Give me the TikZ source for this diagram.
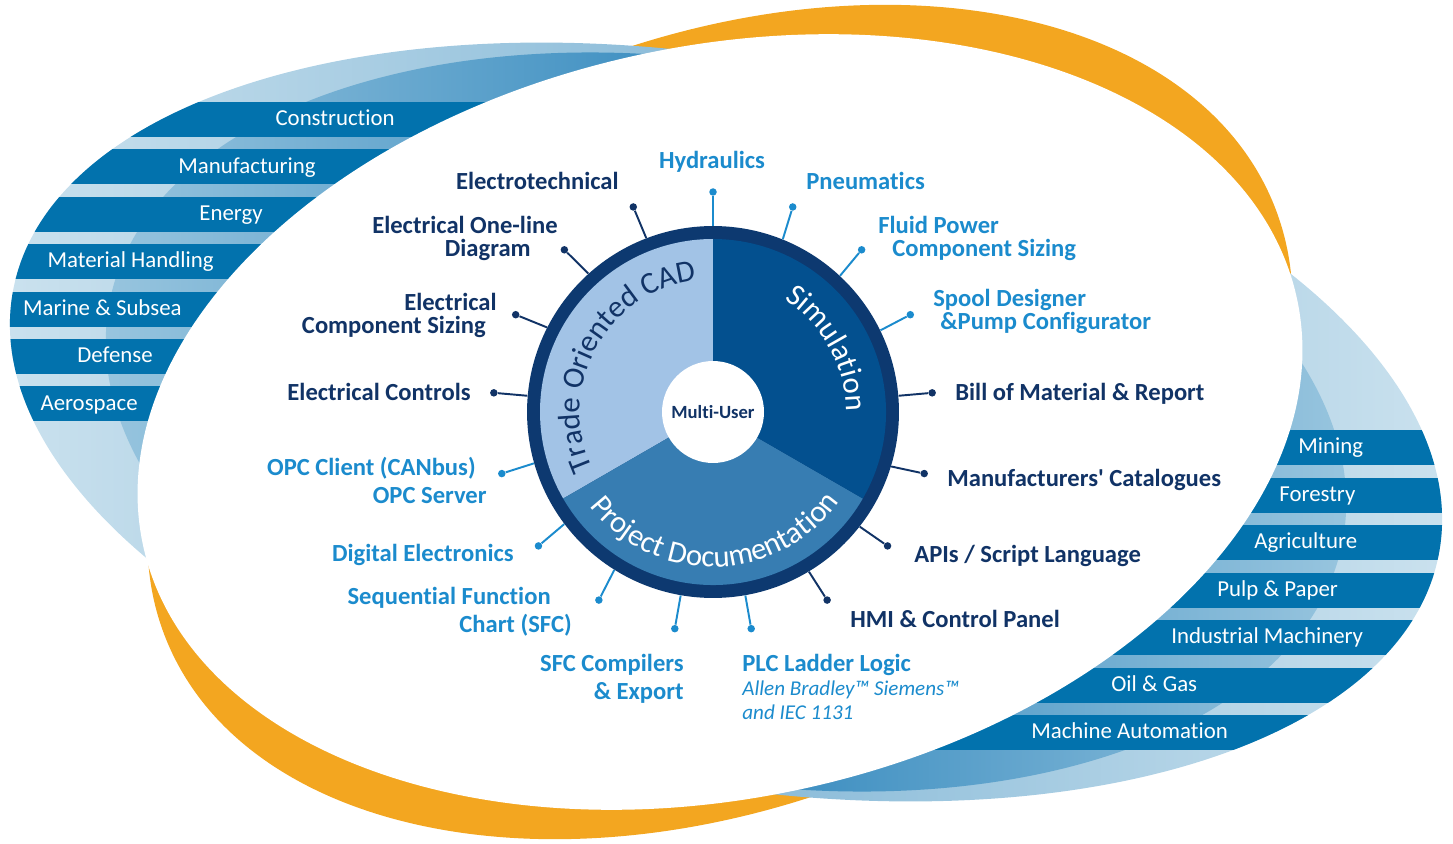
\documentclass[tikz,border=0pt]{standalone}
\usepackage{fontspec}
\setmainfont{Carlito}[Ligatures=NoCommon]
\usetikzlibrary{calc,decorations.text}
\definecolor{bandorange}{RGB}{243,166,32}
\definecolor{stripeblue}{RGB}{2,114,173}
\definecolor{outerpale}{RGB}{205,227,239}
\definecolor{outermid}{RGB}{136,186,216}
\definecolor{innerpale}{RGB}{157,200,224}
\definecolor{innermid}{RGB}{52,137,190}
\definecolor{ringnavy}{RGB}{13,57,112}
\definecolor{cadblue}{RGB}{162,195,230}
\definecolor{simblue}{RGB}{3,80,143}
\definecolor{docblue}{RGB}{55,125,178}
\definecolor{textnavy}{RGB}{17,51,102}
\definecolor{textsky}{RGB}{27,139,205}
\newcommand\labelfont{\fontsize{14pt}{13pt}\selectfont\bfseries}
\newcommand\widelabelfont{\fontsize{14pt}{16pt}\selectfont\bfseries}
\newcommand\barfont{\fontsize{13pt}{15pt}\selectfont}
\newcommand\arcfont{\fontsize{17.5pt}{19pt}\selectfont}
\newcommand\notefont{\fontsize{12pt}{13pt}\selectfont\mdseries\itshape}

\begin{document}
\begin{tikzpicture}[x=0.02cm, y=0.02cm,
  barlabel/.style={text=white, font=\barfont, inner sep=0pt},
  darklabel/.style={text=textnavy, font=\labelfont, inner sep=0pt},
  skylabel/.style={text=textsky, font=\labelfont, inner sep=0pt},
  spokedot/.style={circle, inner sep=0pt, minimum size=0.15cm},
  spoke/.style={line width=1.1pt}
]
\useasboundingbox (0,0) rectangle (1453,843);

%% Background: orange ring, blue crescents, white ellipse
\begin{scope}
\clip (0,0) rectangle (1453,843);
\fill[bandorange, rotate around={21:(720,421)}] (720,421) ellipse [x radius=595, y radius=384];
\shade[left color=outerpale, right color=outerpale, middle color=outermid,
       rotate around={-10.4:(726,421)}] (726,421) ellipse [x radius=725, y radius=362];
\shade[left color=innerpale, right color=innerpale, middle color=innermid,
       rotate around={-11:(726,421)}] (726,421) ellipse [x radius=628, y radius=356];
\begin{scope}
\clip[rotate around={-10.4:(726,421)}] (726,421) ellipse [x radius=725, y radius=362];
\foreach \k in {0,...,6} {
  \fill[stripeblue] (0,{741-47.4*\k}) rectangle (720,{706-47.4*\k});
  \fill[stripeblue] (720,{413-47.5*\k}) rectangle (1453,{378-47.5*\k});
}
\end{scope}
\fill[white, rotate around={12:(720,421)}] (720,421) ellipse [x radius=590, y radius=376];
\end{scope}

%% Industry labels on the stripes
\foreach \txt/\xr [count=\k from 0] in {Construction/395, Manufacturing/316, Energy/263,
    Material Handling/214, Marine \& Subsea/182, Defense/153, Aerospace/138}
  \node[barlabel, anchor=mid east] (lb\k) at (\xr,{721.5-47.4*\k}) {\txt};
\foreach \txt/\xl [count=\k from 0] in {Mining/1298, Forestry/1279, Agriculture/1254,
    Pulp \& Paper/1217, Industrial Machinery/1171, Oil \& Gas/1111, Machine Automation/1031}
  \node[barlabel, anchor=mid west] (rb\k) at (\xl,{393.5-47.5*\k}) {\txt};

%% Hub with three sectors
\node[circle, fill=ringnavy, minimum size=7.44cm, inner sep=0pt] (hub) at (713,431) {};
\fill[cadblue] (hub.center) -- ++(90:173) arc[start angle=90, end angle=210, radius=173] -- cycle;
\fill[docblue] (hub.center) -- ++(210:173) arc[start angle=210, end angle=330, radius=173] -- cycle;
\fill[simblue] (hub.center) -- ++(330:173) arc[start angle=330, end angle=450, radius=173] -- cycle;
\node[circle, fill=white, minimum size=2.04cm, inner sep=0pt, text=textnavy,
      font=\fontsize{10.6pt}{12pt}\selectfont\bfseries] (multi) at (hub.center) {Multi-User};

\path[decorate, decoration={text along path, text align=center, text color=textnavy,
      text={|\arcfont|Trade Oriented CAD}}]
  ($(hub.center)+(215:133)$) arc[start angle=215, end angle=87, radius=133];
\path[decorate, decoration={text along path, text align=center, text color=white,
      text={|\arcfont|Simulation}}]
  ($(hub.center)+(80:133)$) arc[start angle=80, end angle=-22, radius=133];
\path[decorate, decoration={text along path, text align=center, text color=white,
      text={|\arcfont|Project Documentation}}]
  ($(hub.center)+(200:155)$) arc[start angle=200, end angle=342, radius=155];

%% Spokes with end dots
\foreach \ang/\col/\nm in {90/textsky/hyd, 68.75/textsky/pneu, 47.5/textsky/fluid,
    26.25/textsky/spool, 5/textnavy/bom, 343.75/textnavy/cat, 322.5/textnavy/api,
    301.25/textnavy/hmi, 280/textsky/plc, 111.25/textnavy/etech, 132.5/textnavy/oneline,
    153.75/textnavy/esize, 175/textnavy/ectrl, 196.25/textsky/opc, 217.5/textsky/digi,
    238.75/textsky/sfc, 260/textsky/sfcc} {
  \node[spokedot, fill=\col] (\nm) at ($(hub.center)+(\ang:220)$) {};
  \draw[spoke, \col] (hub.\ang) -- (\nm);
}

%% Feature labels
\node[skylabel, anchor=mid] (hydlbl) at (712,679) {Hydraulics};
\node[skylabel, anchor=mid west] (pneulbl) at (806,658) {Pneumatics};
\node[darklabel, anchor=mid east] (etechlbl) at (619,658) {Electrotechnical};
\node[skylabel, align=left, anchor=north west] (fluidlbl) at (878,627)
  {Fluid Power\\\hspace*{0.28cm}Component Sizing};
\node[darklabel, align=right, anchor=north east] (onelinelbl) at (558,627)
  {Electrical One-line\\Diagram\hspace*{0.54cm}\mbox{}};
\node[darklabel, align=right, anchor=north east] (esizelbl) at (497,550)
  {Electrical\\Component Sizing\hspace*{0.22cm}\mbox{}};
\node[skylabel, align=left, anchor=north west] (spoollbl) at (933,554)
  {Spool Designer\\\hspace*{0.14cm}\&Pump Configurator};
\node[darklabel, anchor=mid west] (bomlbl) at (955,447) {Bill of Material \& Report};
\node[darklabel, anchor=mid east] (ectrllbl) at (471,447) {Electrical Controls};
\node[darklabel, anchor=mid west] (catlbl) at (947,361) {Manufacturers\textquotesingle{} Catalogues};
\node[skylabel, font=\widelabelfont, align=right, anchor=north east] (opclbl) at (487,386)
  {OPC Client (CANbus)\hspace*{0.22cm}\mbox{}\\OPC Server};
\node[darklabel, anchor=mid west] (apilbl) at (914,285) {APIs / Script Language};
\node[skylabel, anchor=mid east] (digilbl) at (514,286) {Digital Electronics};
\node[skylabel, font=\widelabelfont, align=right, anchor=north east] (sfclbl) at (572,256)
  {Sequential Function\hspace*{0.42cm}\mbox{}\\Chart (SFC)};
\node[darklabel, anchor=mid west] (hmilbl) at (850,220) {HMI \& Control Panel};
\node[skylabel, font=\widelabelfont, align=right, anchor=north east] (sfcclbl) at (684,189)
  {SFC Compilers\\\& Export};
\node[skylabel, font=\fontsize{14pt}{13.5pt}\selectfont\bfseries, align=left,
      anchor=north west] (plclbl) at (742,189)
  {PLC Ladder Logic\\{\notefont Allen Bradley™ Siemens™}\\{\notefont and IEC 1131}};
\end{tikzpicture}
\end{document}
